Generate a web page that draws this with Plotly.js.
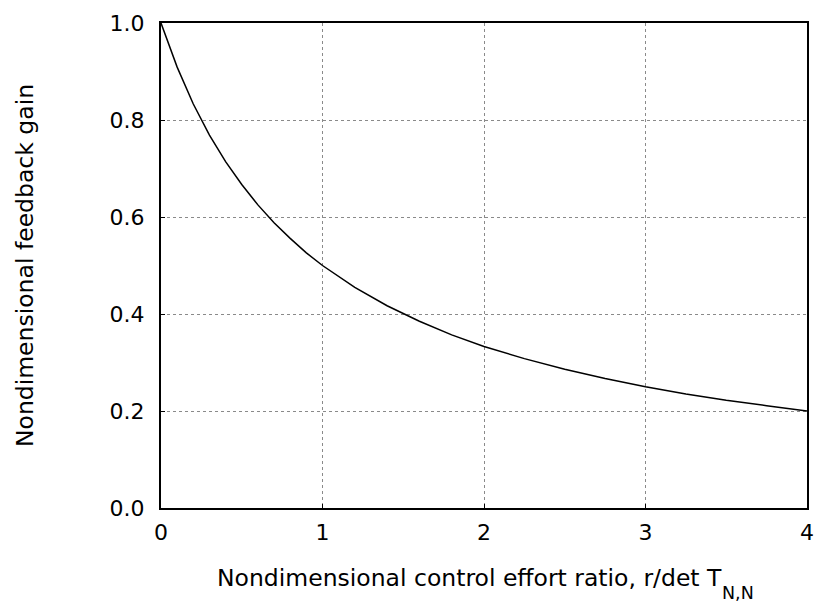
<!DOCTYPE html>
<html>
<head>
<meta charset="utf-8">
<script src="https://cdn.plot.ly/plotly-3.0.1.min.js"></script>
<style>
  html, body { margin: 0; padding: 0; background: #fff; }
  #chart { width: 820px; height: 606px; }
</style>
</head>
<body>
<div id="chart"></div>
<script>
// Control effort ratio r/det T_N,N
const effortRatio = [0, 0.1, 0.2, 0.3, 0.4, 0.5, 0.6, 0.7, 0.8, 0.9, 1.0,
  1.2, 1.4, 1.6, 1.8, 2.0, 2.25, 2.5, 2.75, 3.0, 3.25, 3.5, 3.75, 4.0];
// Nondimensional feedback gain
const feedbackGain = [1.0, 0.909, 0.833, 0.769, 0.714, 0.667, 0.625, 0.588, 0.556, 0.526, 0.5,
  0.455, 0.417, 0.385, 0.357, 0.333, 0.308, 0.286, 0.267, 0.25, 0.235, 0.222, 0.211, 0.2];

const xTicks = [0, 1, 2, 3, 4];
const yTicks = [0.0, 0.2, 0.4, 0.6, 0.8, 1.0];

const xTitleMain = 'Nondimensional control effort ratio, r/det T';
const xTitleSub = 'N,N';
const yTitle = 'Nondimensional feedback gain';

const fontFamily = 'DejaVu Sans, Liberation Sans, Arial, sans-serif';

const trace = {
  x: effortRatio,
  y: feedbackGain,
  type: 'scatter',
  mode: 'lines',
  line: { color: '#000', width: 1.5 },
  hoverinfo: 'skip'
};

const axisCommon = {
  showline: true,
  mirror: true,
  linecolor: '#000',
  linewidth: 2,
  showgrid: true,
  gridcolor: '#8a8a8a',
  gridwidth: 1,
  griddash: 'dot',
  zeroline: false,
  ticks: 'inside',
  ticklen: 4,
  tickcolor: '#000',
  tickfont: { family: fontFamily, size: 22, color: '#000' }
};

const layout = {
  width: 820,
  height: 606,
  margin: { l: 161, r: 13, t: 23, b: 98 },
  paper_bgcolor: '#fff',
  plot_bgcolor: '#fff',
  showlegend: false,
  font: { family: fontFamily, color: '#000' },
  xaxis: Object.assign({}, axisCommon, {
    range: [0, 4],
    tickvals: xTicks,
    ticktext: xTicks.map(String),
    ticklabelstandoff: 4
  }),
  yaxis: Object.assign({}, axisCommon, {
    range: [0, 1],
    tickvals: yTicks,
    ticktext: yTicks.map(v => v.toFixed(1)),
    ticklabelstandoff: 10,
    title: {
      text: yTitle,
      font: { family: fontFamily, size: 23.5, color: '#000' },
      standoff: 69
    }
  }),
  // x-axis title with a deep, large subscript, set as two pieces of text
  annotations: [
    {
      text: xTitleMain,
      xref: 'paper', yref: 'paper',
      x: 0.872, y: -0.144,
      xanchor: 'right', yanchor: 'middle',
      showarrow: false,
      font: { family: fontFamily, size: 23.5, color: '#000' }
    },
    {
      text: xTitleSub,
      xref: 'paper', yref: 'paper',
      x: 0.866, y: -0.176,
      xanchor: 'left', yanchor: 'middle',
      showarrow: false,
      font: { family: fontFamily, size: 17.5, color: '#000' }
    }
  ]
};

Plotly.newPlot('chart', [trace], layout, { staticPlot: true, displayModeBar: false });
</script>
</body>
</html>
